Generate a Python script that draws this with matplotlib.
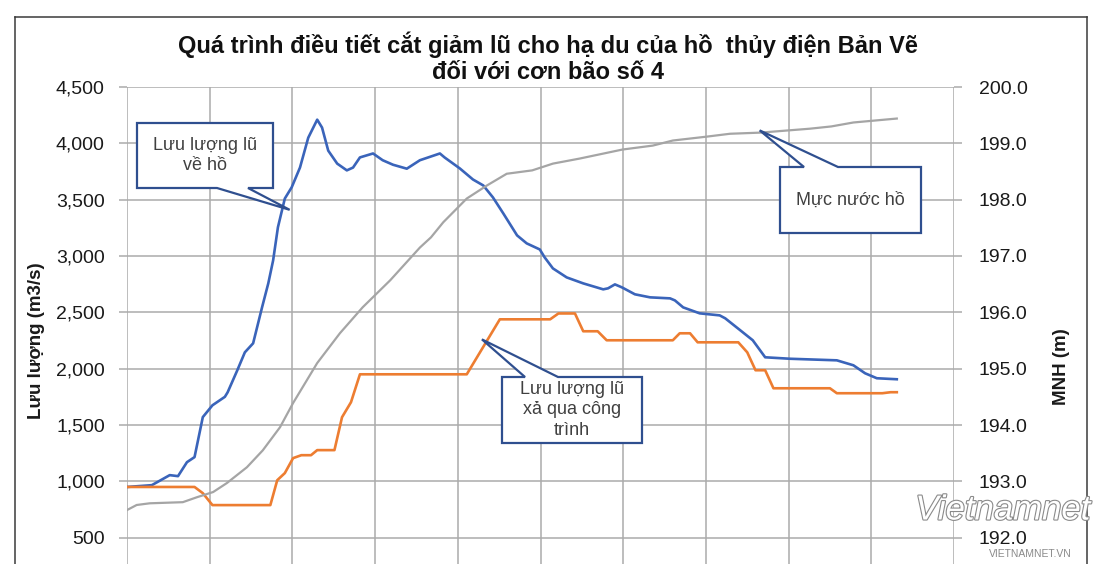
import matplotlib
matplotlib.use("Agg")
import matplotlib.pyplot as plt
import matplotlib.patheffects as pe
from matplotlib.patches import Polygon
from matplotlib.lines import Line2D

plt.rcParams['font.family'] = ['Liberation Sans', 'DejaVu Sans']

# thoi gian (gio), luu luong lu ve ho (m3/s)
t_in = [0, 1.8, 3.1, 3.7, 4.35, 4.9, 5.5, 6.2, 7.1, 7.3, 8.0, 8.55, 9.15, 9.8,
        10.25, 10.6, 10.95, 11.45, 11.95, 12.55, 13.15, 13.8, 14.15, 14.6, 15.25,
        15.95, 16.4, 16.9, 17.85, 18.55, 19.3, 20.3, 21.25, 22.7, 23.05, 24.15,
        25.1, 25.85, 26.55, 27.3, 28.3, 29.0, 29.95, 30.3, 30.9, 31.9, 33.1,
        34.55, 34.9, 35.4, 35.9, 36.85, 37.95, 39.4, 39.75, 40.35, 41.55, 43.0,
        43.4, 44.5, 45.4, 46.3, 48.1, 51.5, 52.7, 53.55, 54.4, 55.85]
q_in = [950, 966, 1055, 1046, 1170, 1215, 1570, 1675, 1750, 1790, 1985, 2145,
        2225, 2545, 2757, 2960, 3255, 3510, 3610, 3785, 4050, 4210, 4140, 3935,
        3820, 3760, 3785, 3875, 3910, 3850, 3810, 3775, 3850, 3910, 3874, 3777,
        3679, 3626, 3520, 3378, 3183, 3112, 3058, 2988, 2890, 2810, 2757, 2704,
        2713, 2748, 2722, 2660, 2633, 2624, 2606, 2544, 2491, 2473, 2447, 2340,
        2252, 2101, 2088, 2074, 2030, 1959, 1915, 1906]

# luu luong lu xa qua cong trinh (m3/s)
t_out = [0, 4.9, 5.5, 6.2, 10.4, 10.9, 11.45, 12.05, 12.65, 13.35, 13.8, 15.05,
         15.6, 16.25, 16.9, 24.65, 27.05, 30.7, 31.3, 32.5, 33.1, 34.15, 34.8,
         39.6, 40.1, 40.85, 41.4, 44.35, 45.0, 45.6, 46.3, 46.9, 51.0, 51.5,
         54.8, 55.4, 55.85]
q_out = [950, 950, 895, 789, 789, 1010, 1073, 1206, 1232, 1232, 1277, 1277,
         1569, 1702, 1950, 1950, 2438, 2438, 2490, 2490, 2332, 2332, 2252, 2252,
         2314, 2314, 2234, 2234, 2145, 1986, 1986, 1826, 1826, 1782, 1782, 1791,
         1791]

# muc nuoc ho (m)
t_mnh = [0, 0.7, 1.65, 4.05, 5.1, 6.25, 7.25, 8.7, 9.85, 11.1, 12.05, 13.8,
         15.45, 17.1, 19.1, 21.25, 22.05, 22.95, 24.65, 26.1, 27.55, 29.4, 30.9,
         32.85, 35.95, 38.15, 39.6, 42.1, 43.75, 45.95, 49.55, 51.1, 52.7, 55.85]
h_mnh = [192.49, 192.58, 192.61, 192.63, 192.72, 192.81, 192.97, 193.25, 193.55,
         193.96, 194.39, 195.10, 195.63, 196.09, 196.57, 197.15, 197.33, 197.60,
         198.02, 198.25, 198.46, 198.52, 198.64, 198.73, 198.89, 198.96, 199.05,
         199.12, 199.17, 199.19, 199.26, 199.30, 199.37, 199.44]

title1 = "Quá trình điều tiết cắt giảm lũ cho hạ du của hồ  thủy điện Bản Vẽ"
title2 = "đối với cơn bão số 4"
q_ticks = list(range(500, 5000, 500))
h_ticks = [192.0 + i for i in range(9)]

W, H = 1100, 564
fig = plt.figure(figsize=(11, 5.64), dpi=100)


def fx(x):
    return x / W


def fy(y):
    return 1 - y / H


ax = fig.add_axes([fx(127), fy(594), fx(954) - fx(127), fy(87) - fy(594)])
ax2 = ax.twinx()

grid_c = '#ABABAB'
ax.set_xlim(0, 60)
ax.set_xticks(range(0, 61, 6))
ax.tick_params(axis='x', length=0, labelbottom=False)
ax.set_ylim(0, 4500)
ax.set_yticks(q_ticks)
ax.set_yticklabels([f"{v:,}" for v in q_ticks])
ax.tick_params(axis='y', length=6, color=grid_c, width=1.1, pad=10,
               labelsize=14, labelcolor='#1a1a1a')
ax.grid(True, color=grid_c, lw=1.1)
ax2.set_ylim(191, 200)
ax2.set_yticks(h_ticks)
ax2.set_yticklabels([f"{v:.1f}" for v in h_ticks])
ax2.tick_params(axis='y', length=6, color=grid_c, width=1.1, pad=12,
                labelsize=14, labelcolor='#1a1a1a')
for a in (ax, ax2):
    for s in a.spines.values():
        s.set_visible(False)

ax.plot(t_in, q_in, color='#3A64BA', lw=1.9, zorder=3)
ax.plot(t_out, q_out, color='#ED7D31', lw=1.9, zorder=3)
ax2.plot(t_mnh, h_mnh, color='#A5A5A5', lw=1.6)

fig.text(fx(548), fy(53), title1, ha='center', va='baseline', fontsize=17,
         fontweight='bold', color='#111111')
fig.text(fx(548), fy(79), title2, ha='center', va='baseline', fontsize=17,
         fontweight='bold', color='#111111')
fig.text(fx(37), fy(341), 'Lưu lượng (m3/s)', rotation=90, ha='center',
         va='center', fontsize=13.5, fontweight='bold', color='#1a1a1a')
fig.text(fx(1062), fy(367), 'MNH (m)', rotation=90, ha='center',
         va='center', fontsize=13.5, fontweight='bold', color='#1a1a1a')

# khung ngoai
for xs, ys in [([15, 15], [17, 600]), ([15, 1087], [17, 17]), ([1087, 1087], [17, 600])]:
    fig.add_artist(Line2D([fx(v) for v in xs], [fy(v) for v in ys],
                          color='#3a3a3a', lw=1.1))


def to_px(a, x, y):
    dx, dy = a.transData.transform((x, y))
    return dx, H - dy


def callout(box, base, tip, side, text):
    x0, y0, x1, y1 = box
    b0, b1 = base
    if side == 'bottom':
        pts = [(x0, y0), (x1, y0), (x1, y1), (b1, y1), tip, (b0, y1), (x0, y1)]
    else:
        pts = [(x0, y0), (b0, y0), tip, (b1, y0), (x1, y0), (x1, y1), (x0, y1)]
    poly = Polygon([(fx(px), fy(py)) for px, py in pts], closed=True,
                   transform=fig.transFigure, facecolor='white',
                   edgecolor='#2F4F8F', lw=1.6, zorder=10)
    fig.add_artist(poly)
    fig.text(fx((x0 + x1) / 2), fy((y0 + y1) / 2), text, ha='center',
             va='center', fontsize=13, color='#404040', linespacing=1.25,
             zorder=11)


callout((137, 123, 273, 188), (217, 248), to_px(ax, 11.8, 3410), 'bottom',
        'Lưu lượng lũ\nvề hồ')
callout((502, 377, 642, 443), (525, 558), to_px(ax, 25.75, 2260), 'top',
        'Lưu lượng lũ\nxả qua công\ntrình')
callout((780, 167, 921, 233), (804, 838), to_px(ax2, 45.9, 199.23), 'top',
        'Mực nước hồ')

# watermark
fig.text(fx(1003), fy(510), 'Vietnamnet', ha='center', va='center',
         fontsize=25, style='italic', color='white', zorder=12,
         path_effects=[pe.withStroke(linewidth=1.6, foreground='#8a8a8a')])
fig.text(fx(1030), fy(554), 'VIETNAMNET.VN', ha='center', va='center',
         fontsize=7.5, color='#8a8a8a', zorder=12)

fig.savefig('out.png', dpi=100)
